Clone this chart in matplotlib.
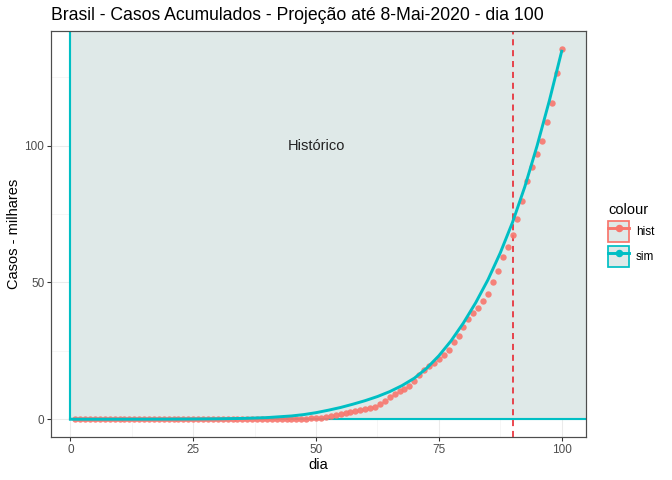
import matplotlib
matplotlib.use('Agg')
import matplotlib.pyplot as plt
from matplotlib.patches import Rectangle, Patch
from matplotlib.lines import Line2D
from matplotlib.ticker import MultipleLocator

plt.rcParams['font.family'] = ['Liberation Sans', 'DejaVu Sans']

# historical cumulative cases (thousands), day 1..100
hist_dia = list(range(1, 101))
hist_casos = [
    0, 0, 0, 0, 0, 0, 0, 0, 0, 0,
    0, 0, 0, 0, 0, 0, 0, 0, 0, 0,
    0, 0, 0, 0, 0, 0, 0, 0, 0.001, 0.001,
    0.001, 0.002, 0.002, 0.002, 0.002, 0.004, 0.004, 0.013, 0.013, 0.020,
    0.025, 0.031, 0.038, 0.052, 0.151, 0.151, 0.162, 0.200, 0.321, 0.372,
    0.621, 0.793, 1.021, 1.546, 1.924, 2.247, 2.554, 2.985, 3.417, 3.904,
    4.256, 4.579, 5.717, 6.836, 8.044, 9.056, 10.36, 11.13, 12.16, 14.03,
    16.17, 18.09, 19.64, 20.73, 22.19, 23.43, 25.26, 28.32, 30.43, 33.68,
    36.66, 38.65, 40.74, 43.08, 45.76, 50.04, 54.04, 59.32, 63.10, 67.45,
    73.24, 79.69, 87.19, 92.20, 97.10, 101.8, 108.6, 115.5, 126.6, 135.5,
]

# simulated curve (thousands)
sim_dia = [0, 5, 10, 15, 20, 25, 30, 35, 40, 45, 47.5, 50, 52.5, 55, 57.5,
           60, 62.5, 65, 67.5, 70, 72.5, 75, 77.5, 80, 82.5, 85, 87.5,
           90, 92.5, 95, 97.5, 100]
sim_casos = [0, 0, 0.01, 0.02, 0.04, 0.08, 0.15, 0.3, 0.6, 1.2, 1.7, 2.4, 3.3, 4.3, 5.5,
             6.8, 8.3, 10.1, 12.3, 15.0, 18.6, 23.2, 28.7, 35.2, 42.6, 51.0, 60.8,
             72.0, 85.0, 100.0, 116.5, 134.5]

dia_corte = 90
titulo = 'Brasil - Casos Acumulados - Projeção até 8-Mai-2020 - dia 100'

cor_hist = '#F8766D'
cor_sim = '#00BFC4'
fundo = '#DFE9E8'

fig = plt.figure(figsize=(7, 5), dpi=96)
ax = fig.add_axes([51/672, 1 - 437.3/480, 535/672, 406.3/480])

# grid (theme_bw like)
ax.set_axisbelow(True)
ax.xaxis.set_minor_locator(MultipleLocator(12.5))
ax.yaxis.set_minor_locator(MultipleLocator(25))
ax.grid(True, which='major', color='#EBEBEB', lw=0.8, zorder=0)
ax.grid(True, which='minor', color='#F2F2F2', lw=0.5, zorder=0)

# shaded "Histórico" region
ax.add_patch(Rectangle((0, 0), 300, 400, facecolor=fundo, edgecolor=cor_sim,
                       lw=1.6, zorder=1))

ax.axvline(dia_corte, color='#E8202A', lw=1.2, ls=(0, (3.8, 3)), zorder=2)
ax.scatter(hist_dia, hist_casos, s=23, color=cor_hist, alpha=0.9, lw=0, zorder=3)
ax.plot(sim_dia, sim_casos, color=cor_sim, lw=2.2, zorder=4)

ax.text(50, 100, 'Histórico', fontsize=11, color='#222222', ha='center', va='center', zorder=5)

ax.set_xlim(-3.95, 104.95)
ax.set_ylim(-6.6, 141.9)
ax.set_xticks([0, 25, 50, 75, 100])
ax.set_yticks([0, 50, 100])
ax.tick_params(which='major', length=2.75, width=0.8, color='#333333',
               labelcolor='#4D4D4D', labelsize=8.8, pad=2.2)
ax.tick_params(which='minor', length=0)
for s in ax.spines.values():
    s.set_color('#4D4D4D')
    s.set_linewidth(0.9)

fig.text(51/672, 1 - 15/480, titulo, fontsize=13.2, ha='left', va='center')
fig.text(14/672, 1 - 234/480, 'Casos - milhares', fontsize=11, rotation=90,
         ha='center', va='center')
fig.text(318.5/672, 1 - 465/480, 'dia', fontsize=11, ha='center', va='center')

handles = [
    (Patch(facecolor=fundo, edgecolor=cor_hist, lw=1.3),
     Line2D([], [], color=cor_hist, lw=2.2, marker='o', ms=4.6)),
    (Patch(facecolor=fundo, edgecolor=cor_sim, lw=1.3),
     Line2D([], [], color=cor_sim, lw=2.2, marker='o', ms=4.6)),
]
fig.legend(handles, ['hist', 'sim'], title='colour', loc='upper left',
           bbox_to_anchor=(608/672, 1 - 203/480), frameon=False, fontsize=8.8,
           title_fontsize=11, handlelength=1.79, handleheight=2.38,
           handletextpad=0.6, labelspacing=0.34, alignment='left',
           borderaxespad=0, borderpad=0)

fig.savefig('out.png', dpi=96)
